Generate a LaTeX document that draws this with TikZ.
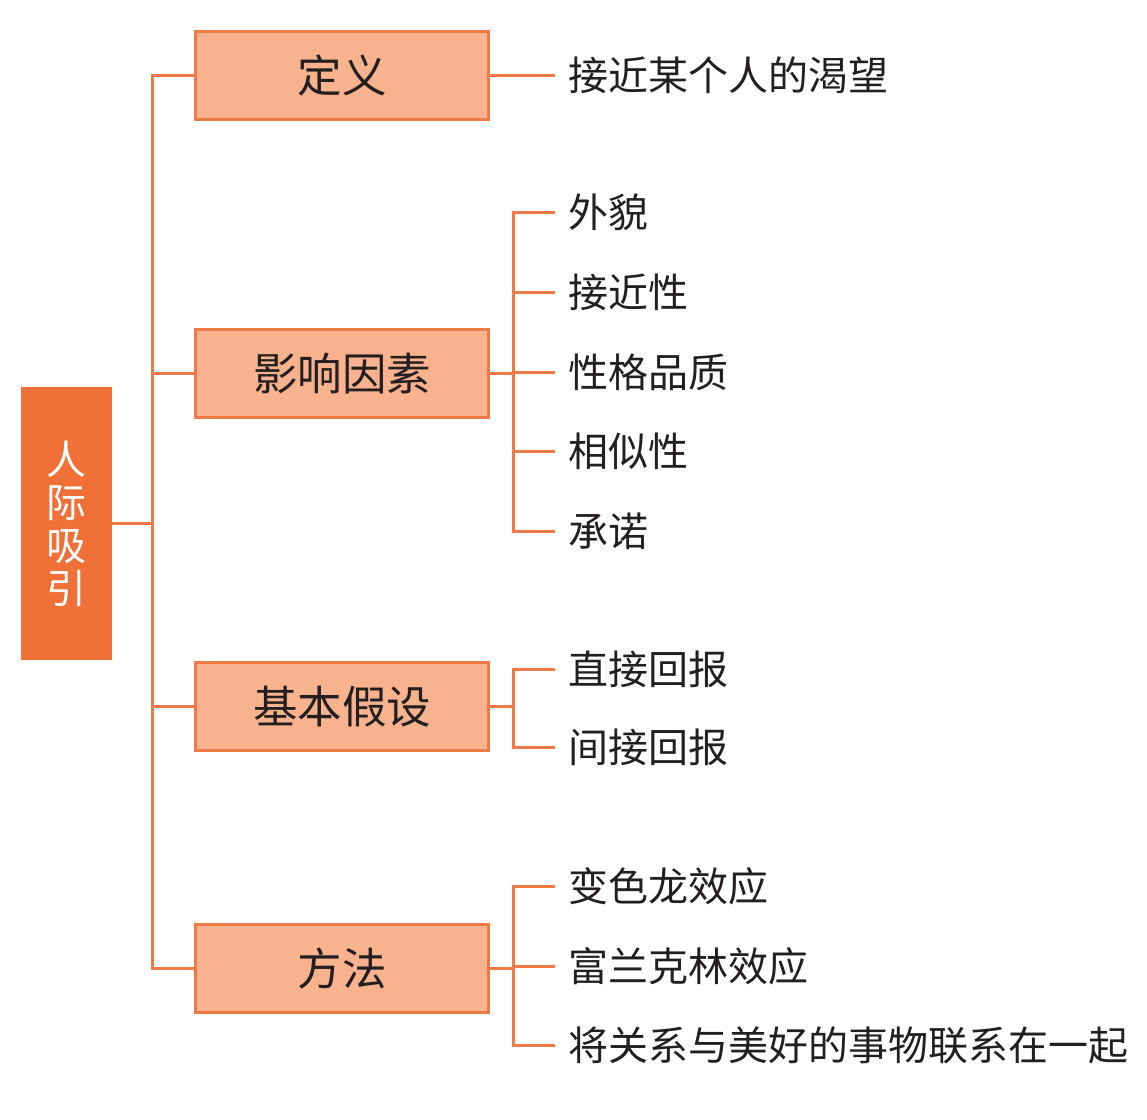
\documentclass[tikz,border=0pt]{standalone}
\usepackage{fontspec}
\setmainfont{Noto Sans CJK SC}
\definecolor{rootc}{HTML}{F07038}
\definecolor{boxc}{HTML}{F9B28E}
\definecolor{linec}{HTML}{EE7A45}
\definecolor{txt}{HTML}{231F20}
\begin{document}
\begin{tikzpicture}[x=1pt,y=-1pt,
  rootbox/.style={fill=rootc,draw=none,minimum width=91pt,minimum height=273pt,inner sep=0pt,
    text=white,align=center,font=\fontsize{40}{43}\selectfont},
  catbox/.style={fill=boxc,draw=linec,line width=3pt,minimum width=293pt,minimum height=88pt,inner sep=0pt,
    text=txt,font=\fontsize{44.5}{48}\selectfont},
  leaf/.style={anchor=west,inner xsep=13pt,inner ysep=0pt,text=txt,font=\fontsize{40}{44}\selectfont},
  conn/.style={draw=linec,line width=3pt}]
\useasboundingbox (0,0) rectangle (1147,1119);
\node[rootbox] (root) at (66.5,523.5) {人\\际\\吸\\引};
\node[catbox] (c1) at (342,75) {定义};
\node[catbox] (c2) at (342,373.5) {影响因素};
\node[catbox] (c3) at (342,706.5) {基本假设};
\node[catbox] (c4) at (342,968.5) {方法};
\coordinate (tk) at (152,523.5);
\draw[conn] (root.east) -- (tk);
\draw[conn] (c1.west) -| (152,523.5) |- (c4.west);
\draw[conn] (tk |- c2.west) -- (c2.west);
\draw[conn] (tk |- c3.west) -- (c3.west);
% leaves
\node[leaf] (l1) at (555,75) {接近某个人的渴望};
\node[leaf] (l21) at (555,212) {外貌};
\node[leaf] (l22) at (555,292) {接近性};
\node[leaf] (l23) at (555,372) {性格品质};
\node[leaf] (l24) at (555,451) {相似性};
\node[leaf] (l25) at (555,531) {承诺};
\node[leaf] (l31) at (555,669) {直接回报};
\node[leaf] (l32) at (555,747) {间接回报};
\node[leaf] (l41) at (555,886) {变色龙效应};
\node[leaf] (l42) at (555,966) {富兰克林效应};
\node[leaf] (l43) at (555,1045) {将关系与美好的事物联系在一起};
\draw[conn] (c1.east) -- (l1.west);
\coordinate (b2) at (513,373.5);
\draw[conn] (c2.east) -- (b2);
\draw[conn] (l21.west) -| (b2) |- (l25.west);
\draw[conn] (b2 |- l22.west) -- (l22.west);
\draw[conn] (b2 |- l23.west) -- (l23.west);
\draw[conn] (b2 |- l24.west) -- (l24.west);
\coordinate (b3) at (513,706.5);
\draw[conn] (c3.east) -- (b3);
\draw[conn] (l31.west) -| (b3) |- (l32.west);
\coordinate (b4) at (513,968.5);
\draw[conn] (c4.east) -- (b4);
\draw[conn] (l41.west) -| (b4) |- (l43.west);
\draw[conn] (b4 |- l42.west) -- (l42.west);
\end{tikzpicture}
\end{document}
